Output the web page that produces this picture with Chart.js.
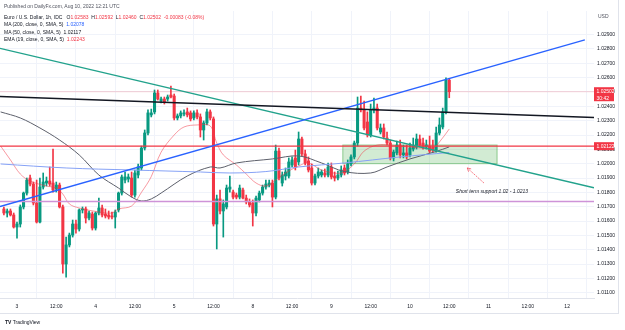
<!DOCTYPE html>
<html>
<head>
<meta charset="utf-8">
<script src="https://cdn.jsdelivr.net/npm/chart.js@4.4.0/dist/chart.umd.min.js"></script>
<style>
  body { margin: 0; background: #fff; overflow: hidden; }
  #wrap { position: relative; width: 625px; height: 330px; font-family: "Liberation Sans", Arial, sans-serif; }
  #myChart { position: absolute; left: 0; top: 0; }
  .txt { position: absolute; font-size: 5px; line-height: 5px; color: #131722; white-space: pre; }
  .r { color: #f23645; }
  .b { color: #2962ff; }
  #frame { position: absolute; left: 0; top: 0; width: 619px; height: 314px; border-right: 1px solid #e0e3eb; border-bottom: 1px solid #e0e3eb; box-sizing: border-box; }
</style>
</head>
<body>
<div id="wrap">
  <div id="frame"></div>
  <canvas id="myChart" width="625" height="330"></canvas>
  <div class="txt" style="left:4px;top:3.5px;color:#50535e">Published on DailyFx.com, Aug 10, 2022 12:21 UTC</div>
  <div class="txt" style="left:4px;top:14.5px">Euro / U.S. Dollar, 1h, IDC   O<span class="r">1.02583</span>  H<span class="r">1.02592</span>  L<span class="r">1.02460</span>  C<span class="r">1.02502</span>  <span class="r">-0.00083 (-0.08%)</span></div>
  <div class="txt" style="left:4px;top:22px">MA (200, close, 0, SMA, 5)  <span class="b">1.02078</span></div>
  <div class="txt" style="left:4px;top:29.5px">MA (50, close, 0, SMA, 5)  1.02117</div>
  <div class="txt" style="left:4px;top:37px">EMA (19, close, 0, SMA, 5)  <span class="r">1.02243</span></div>
  <div class="txt" style="left:598px;top:14px;color:#50535e">USD</div>
  <div class="txt" style="left:5px;top:320px;color:#131722"><b>TV</b> TradingView</div>
</div>
<script>
  // hourly candles, first one is Aug 2 20:00 UTC (hour -4, hour 0 = Aug 3 00:00, weekend removed)
  var firstHour = -4;
  var open = [
    1.01684, 1.01656, 1.01670, 1.01642, 1.01558, 1.01579, 1.01698, 1.01795, 1.01900, 1.01858,
    1.01726, 1.01593, 1.01837, 1.01865, 1.01879, 1.01865, 1.01823, 1.01851, 1.01698, 1.01300,
    1.01433, 1.01502, 1.01579, 1.01544, 1.01677, 1.01684, 1.01621, 1.01649, 1.01551, 1.01656,
    1.01691, 1.01649, 1.01642, 1.01635, 1.01628, 1.01677, 1.01795, 1.01886, 1.01893, 1.01900,
    1.01781, 1.01921, 1.01970, 1.02109, 1.02214, 1.02340, 1.02361, 1.02493, 1.02437, 1.02451,
    1.02451, 1.02479, 1.02472, 1.02319, 1.02333, 1.02347, 1.02361, 1.02354, 1.02319, 1.02354,
    1.02326, 1.02235, 1.02284, 1.02361, 1.02312, 1.01579, 1.01754, 1.01670, 1.01698, 1.01823,
    1.01802, 1.01781, 1.01767, 1.01816, 1.01760, 1.01733, 1.01726, 1.01656, 1.01747, 1.01795,
    1.01837, 1.01851, 1.01865, 1.01767, 1.02088, 1.01865, 1.01914, 1.01914, 1.01991, 1.02040,
    1.02012, 1.02172, 1.02068, 1.02019, 1.01970, 1.01865, 1.01914, 1.01921, 1.01935, 1.01921,
    1.01977, 1.01914, 1.01900, 1.01921, 1.01970, 1.01942, 1.01998, 1.02047, 1.02144, 1.02388,
    1.02375, 1.02291, 1.02200, 1.02375, 1.02388, 1.02221, 1.02249, 1.02179, 1.02144, 1.02040,
    1.02075, 1.02130, 1.02061, 1.02075, 1.02061, 1.02102, 1.02116, 1.02172, 1.02144, 1.02116,
    1.02123, 1.02116, 1.02095, 1.02214, 1.02256, 1.02361, 1.02583
  ];
  var high = [
    1.01698, 1.01684, 1.01684, 1.01656, 1.01593, 1.01712, 1.01802, 1.01900, 1.01921, 1.01872,
    1.01886, 1.01900, 1.01935, 1.01907, 1.01977, 1.02102, 1.01872, 1.01865, 1.01712, 1.01488,
    1.01516, 1.01607, 1.01607, 1.01684, 1.01698, 1.01698, 1.01670, 1.01663, 1.01663, 1.01760,
    1.01712, 1.01684, 1.01670, 1.01663, 1.01677, 1.01802, 1.01921, 1.01942, 1.01928, 1.01942,
    1.01956, 1.01998, 1.02123, 1.02235, 1.02375, 1.02381, 1.02514, 1.02514, 1.02465, 1.02465,
    1.02479, 1.02542, 1.02486, 1.02347, 1.02368, 1.02375, 1.02388, 1.02368, 1.02368, 1.02375,
    1.02347, 1.02298, 1.02381, 1.02375, 1.02326, 1.01781, 1.01816, 1.01747, 1.01851, 1.01914,
    1.01816, 1.01795, 1.01851, 1.01830, 1.01781, 1.01754, 1.01747, 1.01774, 1.01809, 1.01851,
    1.01886, 1.01886, 1.01886, 1.02130, 1.02109, 1.01942, 1.01970, 1.02040, 1.02047, 1.02095,
    1.02221, 1.02186, 1.02095, 1.02047, 1.01998, 1.01928, 1.01970, 1.01956, 1.01963, 1.02005,
    1.02005, 1.01942, 1.01949, 1.01984, 1.01991, 1.02026, 1.02061, 1.02158, 1.02465, 1.02472,
    1.02437, 1.02361, 1.02416, 1.02458, 1.02416, 1.02277, 1.02277, 1.02221, 1.02165, 1.02095,
    1.02158, 1.02165, 1.02130, 1.02130, 1.02144, 1.02179, 1.02207, 1.02200, 1.02179, 1.02165,
    1.02193, 1.02165, 1.02256, 1.02319, 1.02388, 1.02598, 1.02592
  ];
  var low = [
    1.01642, 1.01628, 1.01635, 1.01551, 1.01481, 1.01558, 1.01684, 1.01781, 1.01844, 1.01712,
    1.01586, 1.01586, 1.01823, 1.01844, 1.01844, 1.01802, 1.01802, 1.01691, 1.01237, 1.01209,
    1.01419, 1.01488, 1.01516, 1.01530, 1.01656, 1.01586, 1.01607, 1.01537, 1.01537, 1.01642,
    1.01628, 1.01621, 1.01614, 1.01614, 1.01551, 1.01663, 1.01781, 1.01865, 1.01872, 1.01767,
    1.01767, 1.01900, 1.01956, 1.02095, 1.02200, 1.02326, 1.02347, 1.02444, 1.02423, 1.02416,
    1.02437, 1.02458, 1.02305, 1.02305, 1.02319, 1.02333, 1.02326, 1.02298, 1.02305, 1.02312,
    1.02186, 1.02165, 1.02270, 1.02305, 1.01565, 1.01405, 1.01649, 1.01488, 1.01684, 1.01802,
    1.01754, 1.01754, 1.01754, 1.01754, 1.01719, 1.01698, 1.01565, 1.01635, 1.01733, 1.01781,
    1.01823, 1.01837, 1.01698, 1.01754, 1.01886, 1.01844, 1.01886, 1.01900, 1.01977, 1.01956,
    1.01991, 1.02054, 1.01991, 1.01942, 1.01851, 1.01851, 1.01900, 1.01907, 1.01907, 1.01907,
    1.01893, 1.01879, 1.01886, 1.01907, 1.01921, 1.01928, 1.01984, 1.02033, 1.02123, 1.02361,
    1.02235, 1.02186, 1.02186, 1.02354, 1.02235, 1.02207, 1.02172, 1.02130, 1.02026, 1.02019,
    1.02061, 1.02040, 1.02040, 1.02033, 1.02047, 1.02088, 1.02102, 1.02116, 1.02102, 1.02102,
    1.02075, 1.02081, 1.02081, 1.02200, 1.02242, 1.02347, 1.02460
  ];
  var close = [
    1.01656, 1.01670, 1.01642, 1.01558, 1.01579, 1.01698, 1.01795, 1.01886, 1.01858, 1.01726,
    1.01593, 1.01837, 1.01872, 1.01879, 1.01858, 1.01816, 1.01851, 1.01698, 1.01300, 1.01433,
    1.01502, 1.01579, 1.01544, 1.01677, 1.01684, 1.01621, 1.01656, 1.01551, 1.01656, 1.01691,
    1.01642, 1.01635, 1.01628, 1.01628, 1.01663, 1.01795, 1.01907, 1.01907, 1.01907, 1.01781,
    1.01935, 1.01977, 1.02109, 1.02214, 1.02354, 1.02354, 1.02493, 1.02451, 1.02451, 1.02430,
    1.02465, 1.02465, 1.02319, 1.02333, 1.02354, 1.02354, 1.02340, 1.02312, 1.02354, 1.02326,
    1.02235, 1.02284, 1.02361, 1.02319, 1.01579, 1.01754, 1.01670, 1.01719, 1.01830, 1.01837,
    1.01767, 1.01767, 1.01830, 1.01760, 1.01733, 1.01712, 1.01656, 1.01760, 1.01795, 1.01837,
    1.01858, 1.01865, 1.01767, 1.02088, 1.01900, 1.01921, 1.01942, 1.02012, 1.02026, 1.01977,
    1.02172, 1.02068, 1.02005, 1.01956, 1.01865, 1.01914, 1.01942, 1.01942, 1.01921, 1.01977,
    1.01907, 1.01900, 1.01921, 1.01956, 1.01935, 1.01998, 1.02047, 1.02144, 1.02388, 1.02375,
    1.02249, 1.02200, 1.02375, 1.02388, 1.02249, 1.02249, 1.02186, 1.02144, 1.02040, 1.02081,
    1.02130, 1.02061, 1.02075, 1.02047, 1.02109, 1.02123, 1.02172, 1.02130, 1.02116, 1.02130,
    1.02088, 1.02095, 1.02214, 1.02270, 1.02361, 1.02583, 1.02502
  ];

  // indicators at a few hours
  var ma200Hours = [-5, 15, 35, 56, 65, 76, 86, 100, 117, 132];
  var ma200Values = [1.01998, 1.01970, 1.01956, 1.01942, 1.01935, 1.01945, 1.01977, 1.02005, 1.02047, 1.02078];
  var ma50Hours = [-5, 1, 7, 13, 19, 25, 31, 35, 38, 41, 44, 52, 59, 62, 67, 78, 86, 93, 100, 108, 113, 120, 128, 132];
  var ma50Values = [1.02361, 1.02319, 1.02249, 1.02165, 1.02061, 1.01921, 1.01830, 1.01767, 1.01740, 1.01754, 1.01795, 1.01914,
                    1.01977, 1.01970, 1.02005, 1.02033, 1.02054, 1.02005, 1.01945, 1.01935, 1.01977, 1.02033, 1.02085, 1.02117];
  var ema19Hours = [-5, -2, 1, 4, 9, 12, 14, 16, 19, 25, 29, 31, 35, 38, 41, 44, 48, 51, 55, 59, 61, 63, 67, 70,
                    73, 76, 79, 82, 86, 89, 93, 99, 103, 106, 110, 114, 120, 127, 129, 132];
  var ema19Values = [1.02123, 1.02026, 1.01928, 1.01879, 1.01844, 1.01830, 1.01788, 1.01719, 1.01691, 1.01663, 1.01656, 1.01684,
                     1.01705, 1.01800, 1.01910, 1.02080, 1.02200, 1.02256, 1.02270, 1.02263, 1.02144, 1.02061, 1.01991, 1.01928,
                     1.01865, 1.01844, 1.01886, 1.01935, 1.01984, 1.02005, 1.01956, 1.01935, 1.01998, 1.02088, 1.02130, 1.02130,
                     1.02116, 1.02109, 1.02151, 1.02242];

  // drawn trendlines and levels
  var xMin = -5.19, xMax = 176.2;
  var blackTrend = [1.02469, 1.02322];
  var blueTrendHours = [-5.19, 173.4];
  var blueTrend = [1.01701, 1.02863];
  var tealTrend = [1.02804, 1.01832];
  var resistance = 1.02122;
  var lowLevel = 1.01737;
  var lastPrice = 1.02502;
  var zoneHours = [99.5, 146.6];
  var zoneValues = [1.0200, 1.0213];
  var noteText = 'Short term support 1.02 - 1.0213';

  // axes
  var timeTickHours = [0, 12, 24, 36, 48, 60, 72, 84, 96, 108, 120, 132, 144, 156, 168];
  var timeTickLabels = ['3', '12:00', '4', '12:00', '5', '12:00', '8', '12:00', '9', '12:00', '10', '12:00', '11', '12:00', '12'];
  var priceTicks = [1.011, 1.012, 1.013, 1.014, 1.015, 1.016, 1.017, 1.018, 1.019, 1.020,
                    1.021, 1.022, 1.023, 1.024, 1.025, 1.026, 1.027, 1.028, 1.029];
  var yMin = 1.01063, yMax = 1.03065;

  var fontFam = '"Liberation Sans", Arial, sans-serif';
  var upColor = '#089981', downColor = '#f23645';

  var hours = open.map(function (o, k) { return firstHour + k; });
  var candleColors = open.map(function (o, k) { return close[k] >= o ? upColor : downColor; });

  function pts(xs, ys) {
    return xs.map(function (x, k) { return { x: x, y: ys[k] }; });
  }
  function lineSet(xs, ys, color, width, tension, order) {
    return { type: 'line', data: pts(xs, ys), borderColor: color, borderWidth: width,
             pointRadius: 0, tension: tension, order: order };
  }

  // zone box, note, arrow and price labels
  var overlay = {
    id: 'overlay',
    beforeDatasetsDraw: function (chart) {
      var c = chart.ctx, x = chart.scales.x, y = chart.scales.y;
      var x0 = x.getPixelForValue(zoneHours[0]), x1 = x.getPixelForValue(zoneHours[1]);
      var y0 = y.getPixelForValue(zoneValues[1]), y1 = y.getPixelForValue(zoneValues[0]);
      c.save();
      c.fillStyle = 'rgba(76,175,80,0.25)';
      c.fillRect(x0, y0, x1 - x0, y1 - y0);
      c.strokeStyle = 'rgba(76,175,80,0.6)';
      c.lineWidth = 1;
      c.strokeRect(x0, y0, x1 - x0, y1 - y0);
      c.restore();
    },
    afterDatasetsDraw: function (chart) {
      var c = chart.ctx, x = chart.scales.x, y = chart.scales.y, area = chart.chartArea;
      c.save();
      // note
      c.font = 'italic 5px ' + fontFam;
      c.fillStyle = '#131722';
      c.textBaseline = 'middle';
      c.fillText(noteText, x.getPixelForValue(134), y.getPixelForValue(1.01806));
      // arrow pointing at the zone
      var tx = x.getPixelForValue(142.6), ty = y.getPixelForValue(1.01865);
      var hx = x.getPixelForValue(137.5), hy = y.getPixelForValue(1.01970);
      c.strokeStyle = 'rgba(242,54,69,0.65)';
      c.lineWidth = 1;
      c.setLineDash([2, 1]);
      c.beginPath(); c.moveTo(tx, ty); c.lineTo(hx, hy); c.stroke();
      c.setLineDash([]);
      var ang = Math.atan2(hy - ty, hx - tx);
      c.beginPath();
      c.moveTo(hx - 4 * Math.cos(ang - 0.5), hy - 4 * Math.sin(ang - 0.5));
      c.lineTo(hx, hy);
      c.lineTo(hx - 4 * Math.cos(ang + 0.5), hy - 4 * Math.sin(ang + 0.5));
      c.stroke();
      // price labels on the axis
      c.font = '5px ' + fontFam;
      c.textBaseline = 'middle';
      var py = y.getPixelForValue(lastPrice);
      c.fillStyle = '#f23645';
      c.fillRect(area.right, py - 4.5, 20, 14);
      c.fillStyle = '#fff';
      c.fillText(lastPrice.toFixed(5), area.right + 2.5, py);
      c.fillText('30:42', area.right + 2.5, py + 6.5);
      var ry = y.getPixelForValue(resistance);
      c.fillStyle = '#f23645';
      c.fillRect(area.right, ry - 4, 20, 8);
      c.fillStyle = '#fff';
      c.fillText(resistance.toFixed(5), area.right + 2.5, ry);
      c.restore();
    }
  };

  var ctx = document.getElementById('myChart').getContext('2d');
  var myChart = new Chart(ctx, {
    type: 'bar',
    data: {
      datasets: [
        // trendlines on top
        lineSet([xMin, xMax], blackTrend, '#131722', 1.4, 0, 1),
        lineSet(blueTrendHours, blueTrend, '#2962ff', 1.3, 0, 1),
        lineSet([xMin, xMax], tealTrend, '#22a28c', 1.3, 0, 1),
        lineSet([xMin, xMax], [resistance, resistance], '#f23645', 1.3, 0, 1),
        lineSet([xMin, xMax], [lowLevel, lowLevel], '#ce93d8', 1.5, 0, 1),
        lineSet([xMin, xMax], [lastPrice, lastPrice], 'rgba(242,54,69,0.22)', 1, 0, 2),
        // indicators
        lineSet(ma200Hours, ma200Values, '#86a2f6', 1, 0.35, 3),
        lineSet(ma50Hours, ma50Values, '#5d606b', 1, 0.35, 3),
        lineSet(ema19Hours, ema19Values, 'rgba(242,54,69,0.5)', 1, 0.35, 3),
        // candles: wicks then bodies
        {
          type: 'bar', order: 10, grouped: false, barThickness: 1,
          data: hours.map(function (h, k) { return { x: h, y: [low[k], high[k]] }; }),
          backgroundColor: candleColors
        },
        {
          type: 'bar', order: 9, grouped: false, barThickness: 2.4, minBarLength: 1,
          data: hours.map(function (h, k) { return { x: h, y: [open[k], close[k]] }; }),
          backgroundColor: candleColors
        }
      ]
    },
    options: {
      responsive: false,
      animation: false,
      layout: { padding: { top: 11, right: 0, bottom: 16, left: 0 } },
      plugins: { legend: { display: false }, tooltip: { enabled: false } },
      scales: {
        x: {
          type: 'linear', min: xMin, max: xMax, offset: false,
          afterBuildTicks: function (s) { s.ticks = timeTickHours.map(function (v) { return { value: v }; }); },
          afterFit: function (s) { s.height = 16; },
          grid: { color: '#f0f3fa', drawTicks: false },
          border: { display: true, color: '#e0e3eb' },
          ticks: {
            font: { size: 5, family: fontFam }, color: '#131722', padding: 6,
            maxRotation: 0, autoSkip: false,
            callback: function (v, i) { return timeTickLabels[i]; }
          }
        },
        y: {
          position: 'right', min: yMin, max: yMax,
          afterBuildTicks: function (s) { s.ticks = priceTicks.map(function (v) { return { value: v }; }); },
          afterFit: function (s) { s.width = 31; },
          grid: { color: '#f0f3fa', drawTicks: false },
          border: { display: false },
          ticks: {
            font: { size: 5, family: fontFam }, color: '#131722', padding: 3,
            callback: function (v) { return v.toFixed(5); }
          }
        }
      }
    },
    plugins: [overlay]
  });
</script>
</body>
</html>
